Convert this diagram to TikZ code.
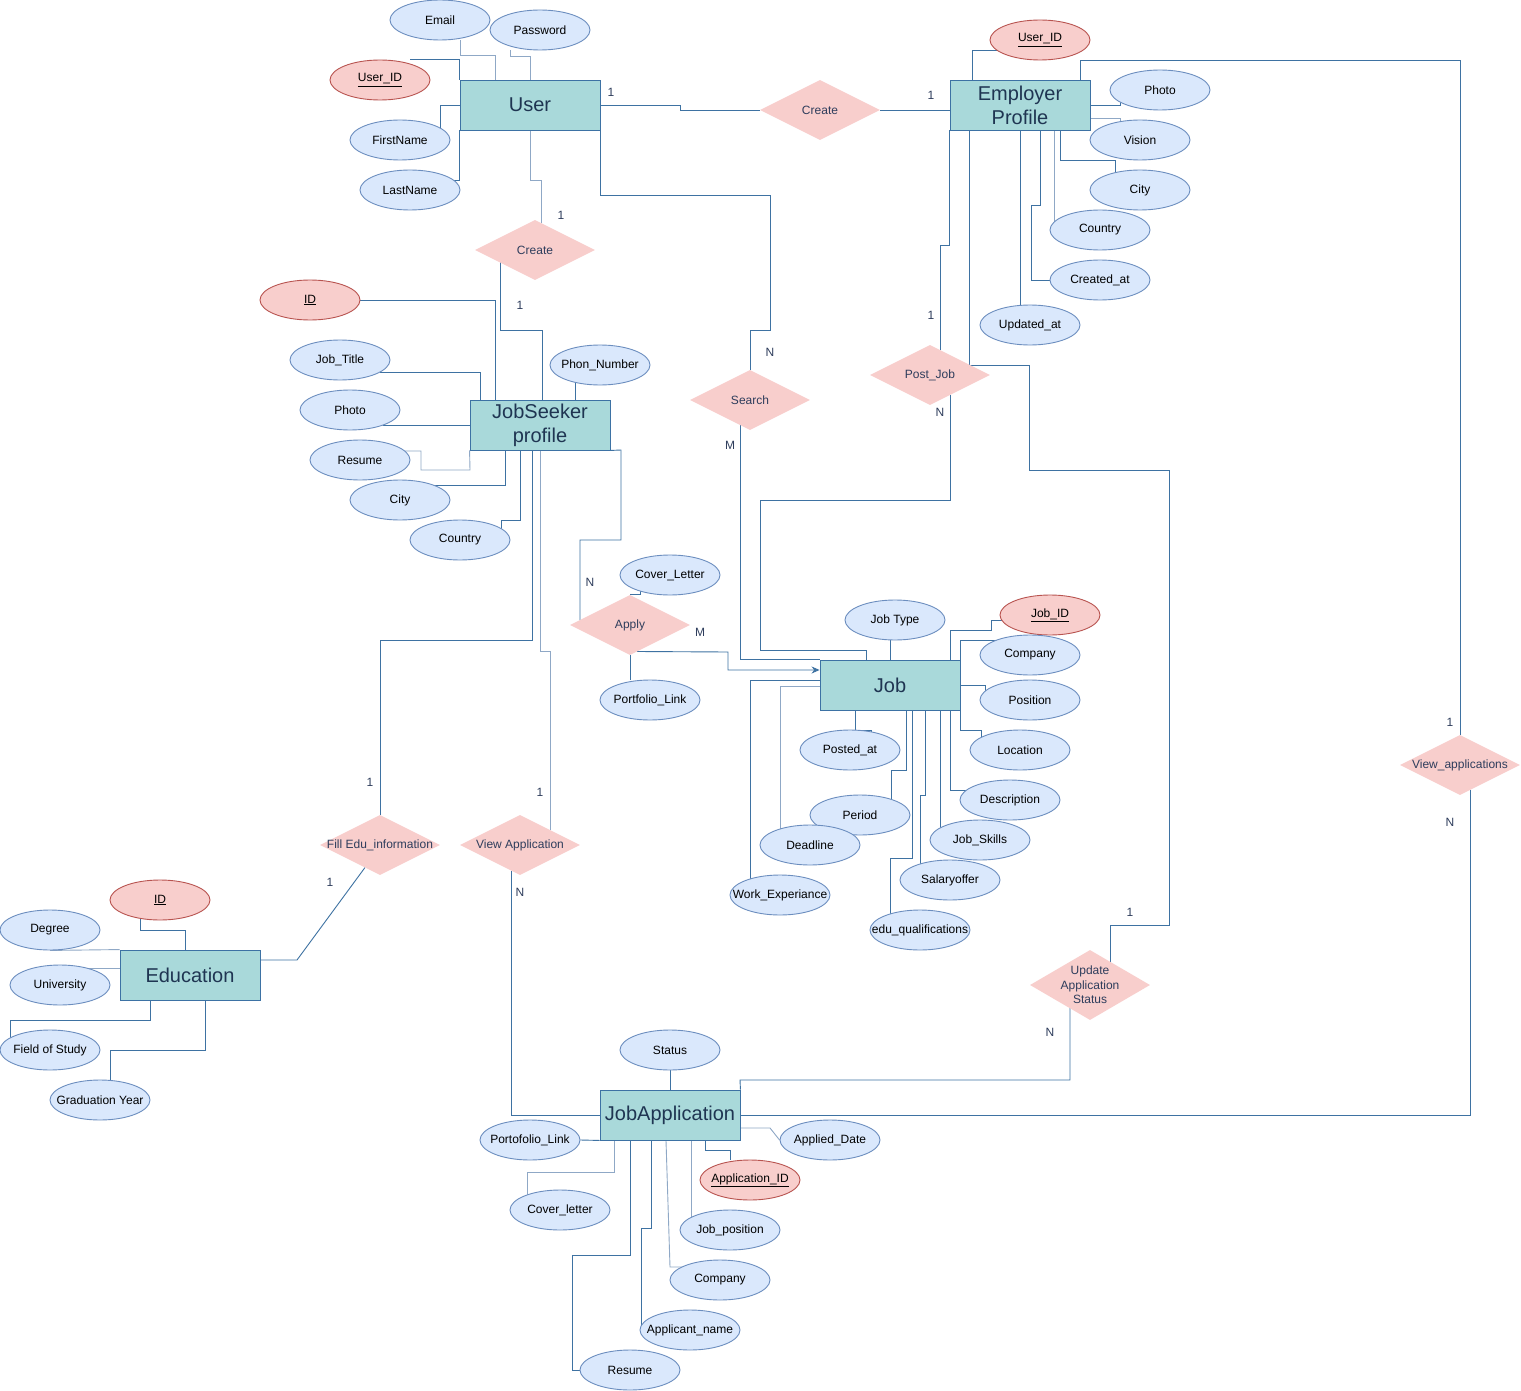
\documentclass[tikz,border=0pt]{standalone}
\usepackage{fontspec}
\setmainfont{Liberation Sans}
\usetikzlibrary{shapes.geometric,arrows.meta}
\pgfdeclarelayer{bg}
\pgfdeclarelayer{wires}
\pgfsetlayers{bg,wires,main}
\definecolor{attrfill}{HTML}{DAE8FC}
\definecolor{attrline}{HTML}{6C8EBF}
\definecolor{keyfill}{HTML}{F8CECC}
\definecolor{keyline}{HTML}{B85450}
\definecolor{entfill}{HTML}{A9D9DA}
\definecolor{entline}{HTML}{3D72A4}
\definecolor{enttext}{HTML}{1F3552}
\definecolor{relfill}{HTML}{F8CECC}
\definecolor{reltext}{HTML}{2E3D5C}
\definecolor{wire}{HTML}{3E72A2}
\definecolor{wirelight}{HTML}{8FA8C6}
\newcommand{\mbz}[1]{\makebox[0pt]{#1}}
\tikzset{
  attr/.style={ellipse, draw=attrline, fill=attrfill, line width=0.9pt, minimum width=100pt, minimum height=40pt, inner sep=0pt, font=\fontsize{12}{14}\selectfont, text=black},
  keyattr/.style={attr, draw=keyline, fill=keyfill},
  entity/.style={rectangle, draw=entline, fill=entfill, line width=0.9pt, minimum width=140pt, minimum height=50pt, inner sep=0pt, font=\fontsize{20}{24}\selectfont, text=enttext, align=center},
  rel/.style={diamond, fill=relfill, draw=none, minimum width=120pt, minimum height=60pt, inner sep=0pt, font=\fontsize{12}{14}\selectfont, text=reltext},
  reltxt/.style={font=\fontsize{12}{14.5}\selectfont, text=reltext, align=center, inner sep=0pt},
  wireline/.style={draw=wire, line width=0.9pt},
  wirelt/.style={draw=wirelight, line width=0.9pt},
  card/.style={font=\fontsize{12}{14}\selectfont, text=reltext, inner sep=0pt},
}
\begin{document}
\begin{tikzpicture}[x=1pt,y=-1pt]
\begin{pgfonlayer}{bg}
\fill[white] (0,0) rectangle (1521,1391);
\end{pgfonlayer}
\useasboundingbox (0,0) rectangle (1521,1391);

% ---------- User ----------
\node[entity] (user) at (530,105) {User};
\node[attr] (email) at (440,20) {\mbz{Email}};
\node[attr] (password) at (540,30) {\mbz{Password}};
\node[keyattr] (uid1) at (380,80) {\mbz{\underline{User\_ID}}};
\node[attr] (firstname) at (400,140) {\mbz{FirstName}};
\node[attr] (lastname) at (410,190) {\mbz{LastName}};

% ---------- Employer ----------
\node[rel] (create1) at (820,110) {\mbz{Create}};
\node[entity] (employer) at (1020,105) {Employer\\Profile};
\node[keyattr] (uid2) at (1040,40) {\mbz{\underline{User\_ID}}};
\node[attr] (ephoto) at (1160,90) {\mbz{Photo}};
\node[attr] (vision) at (1140,140) {\mbz{Vision}};
\node[attr] (ecity) at (1140,190) {\mbz{City}};
\node[attr] (ecountry) at (1100,230) {\mbz{Country}};
\node[attr] (created) at (1100,280) {\mbz{Created\_at}};
\node[attr] (updated) at (1030,325) {\mbz{Updated\_at}};

% ---------- relations ----------
\node[rel] (create2) at (535,250) {\mbz{Create}};
\node[rel] (search) at (750,400) {\mbz{Search}};
\node[rel] (postjob) at (930,375) {\mbz{Post\_Job}};
\node[rel] (apply) at (630,625) {\mbz{Apply}};
\node[rel] (filledu) at (380,845) {\mbz{Fill Edu\_information}};
\node[rel] (viewapp) at (520,845) {\mbz{View Application}};
\node[rel] (viewapps) at (1460,765) {\mbz{View\_applications}};
\node[rel, minimum height=70pt, label={[reltxt]center:Update\\Application\\Status}] (update) at (1090,985) {};

% ---------- JobSeeker ----------
\node[entity] (jobseeker) at (540,425) {JobSeeker\\profile};
\node[keyattr] (jsid) at (310,300) {\mbz{\underline{ID}}};
\node[attr] (jobtitle) at (340,360) {\mbz{Job\_Title}};
\node[attr] (jsphoto) at (350,410) {\mbz{Photo}};
\node[attr] (jsresume) at (360,460) {\mbz{Resume}};
\node[attr] (jscity) at (400,500) {\mbz{City}};
\node[attr] (jscountry) at (460,540) {\mbz{Country}};
\node[attr] (phone) at (600,365) {\mbz{Phon\_Number}};
\node[attr] (coverletter) at (670,575) {\mbz{Cover\_Letter}};
\node[attr] (portfolio) at (650,700) {\mbz{Portfolio\_Link}};

% ---------- Job ----------
\node[entity] (job) at (890,685) {Job};
\node[attr] (jobtype) at (895,620) {\mbz{Job Type}};
\node[keyattr] (jobid) at (1050,615) {\mbz{\underline{Job\_ID}}};
\node[attr] (jcompany) at (1030,655) {\mbz{Company}};
\node[attr] (position) at (1030,700) {\mbz{Position}};
\node[attr] (location) at (1020,750) {\mbz{Location}};
\node[attr] (description) at (1010,800) {\mbz{Description}};
\node[attr] (skills) at (980,840) {\mbz{Job\_Skills}};
\node[attr] (salary) at (950,880) {\mbz{Salaryoffer}};
\node[attr] (eduq) at (920,930) {\mbz{edu\_qualifications}};
\node[attr] (period) at (860,815) {\mbz{Period}};
\node[attr] (posted) at (850,750) {\mbz{Posted\_at}};
\node[attr] (deadline) at (810,845) {\mbz{Deadline}};
\node[attr] (workexp) at (780,895) {\mbz{Work\_Experiance}};

% ---------- Education ----------
\node[entity] (education) at (190,975) {Education};
\node[keyattr] (eduid) at (160,900) {\mbz{\underline{ID}}};
\node[attr] (degree) at (50,930) {\mbz{Degree}};
\node[attr] (university) at (60,985) {\mbz{University}};
\node[attr] (field) at (50,1050) {\mbz{Field of Study}};
\node[attr] (gradyear) at (100,1100) {\mbz{Graduation Year}};

% ---------- JobApplication ----------
\node[entity] (jobapp) at (670,1115) {JobApplication};
\node[attr] (status) at (670,1050) {\mbz{Status}};
\node[attr] (portolink) at (530,1140) {\mbz{Portofolio\_Link}};
\node[attr] (applied) at (830,1140) {\mbz{Applied\_Date}};
\node[keyattr] (appid) at (750,1180) {\mbz{\underline{Application\_ID}}};
\node[attr] (coverl) at (560,1210) {\mbz{Cover\_letter}};
\node[attr] (jobpos) at (730,1230) {\mbz{Job\_position}};
\node[attr] (acompany) at (720,1280) {\mbz{Company}};
\node[attr] (applicant) at (690,1330) {\mbz{Applicant\_name}};
\node[attr] (aresume) at (630,1370) {\mbz{Resume}};

\coordinate (stub) at (270,360);

% ---------- connectors ----------
\begin{pgfonlayer}{wires}
% user attributes
\draw[wirelt] ([xshift=20pt]email.south) |- (495,55) -- ([xshift=-35pt]user.north);
\draw[wirelt] ([xshift=-30pt]password.south) |- (530,56) -- (user.north);
\draw[wireline] ([xshift=30pt]uid1.north) -| (user.north west);
\draw[wireline] ([xshift=40pt,yshift=12pt]firstname.center) |- (user.west);
\draw[wireline] ([xshift=43pt,yshift=10pt]lastname.center) -| (user.south west);
% user - create - employer
\draw[wireline] (user.east) -- (680,105) |- (create1.west);
\draw[wireline] (create1.east) -- ([yshift=-5pt]employer.west);
% user - search - job
\draw[wireline] (user.south east) |- (770,195) |- (750,330) -- (search.north);
\draw[wireline] ([xshift=-10pt,yshift=-25pt]search.center) |- (job.north west);
% employer - post job - job
\draw[wireline] (employer.south west) |- (940,245) -- ([xshift=10pt,yshift=25pt]postjob.center);
\draw[wireline] ([xshift=20pt,yshift=-20pt]postjob.center) |- (760,500) |- (866,650) -- ([xshift=-24pt]job.north);
% employer - update - jobapp
\draw[wireline] ([xshift=-51pt]employer.south) |- (1029,365) |- (1169,470) |- (1110,925) -- ([xshift=20pt,yshift=23pt]update.center);
\draw[wireline] ([xshift=-20pt,yshift=-23pt]update.center) |- (740,1080) -- (jobapp.north east);
% employer - view applications - jobapp
\draw[wireline] ([xshift=60pt]employer.north) |- (1460,60) -- (viewapps.north);
\draw[wireline] ([xshift=10pt,yshift=-25pt]viewapps.center) |- (jobapp.east);
% user - create - jobseeker
\draw[wirelt] (user.south) |- (541,180) -- ([xshift=6pt,yshift=27pt]create2.center);
\draw[wireline] ([xshift=-35pt,yshift=-12.5pt]create2.center) |- (542,330) -- ([xshift=2pt]jobseeker.north);
% jobseeker attributes
\draw[wireline] (jsid.east) -| ([xshift=-45pt]jobseeker.north);
\draw[wireline] ([xshift=40pt,yshift=-12pt]jobtitle.center) -| ([xshift=-60pt]jobseeker.north);
\draw[wireline, line width=0.6pt, double=white, double distance=1.4pt] (stub) -- ([xshift=-3pt]jobtitle.west);
\draw[wireline] ([xshift=33pt,yshift=-15pt]jsphoto.center) -- (jobseeker.west);
\draw[wirelt] ([xshift=44pt,yshift=9pt]jsresume.center) -- (421,451) |- (470,470) -- (jobseeker.south west);
\draw[wireline] ([xshift=33pt,yshift=15pt]jscity.center) -| ([xshift=-35pt]jobseeker.south);
\draw[wireline] ([xshift=41pt,yshift=11pt]jscountry.center) |- (520,520) -- ([xshift=-20pt]jobseeker.south);
\draw[wireline] ([xshift=-25pt,yshift=-17pt]phone.center) -- ([xshift=35pt]jobseeker.north);
% jobseeker - apply - job
\draw[wireline] (jobseeker.south east) -- (621,450) |- (580,540) -- ([xshift=-50pt,yshift=5pt]apply.center);
\draw[wireline] ([xshift=-30pt,yshift=-16pt]coverletter.center) |- (apply.north);
\draw[wireline] (apply.south) -- ([xshift=-20pt]portfolio.north);
\draw[wireline, -{Stealth[length=8pt,width=7pt]}] ([xshift=7pt,yshift=-26.5pt]apply.center) -- (728,652) |- ([yshift=15pt]job.west);
% job attributes
\draw[wireline] ([xshift=-5pt]jobtype.south) -- (job.north);
\draw[wireline] ([xshift=-48pt,yshift=-5pt]jobid.center) -- (991,620) |- (950,630) -- ([xshift=60pt]job.north);
\draw[wireline] ([xshift=-33pt,yshift=15pt]jcompany.center) -| (job.north east);
\draw[wireline] (job.east) -| ([xshift=-45pt,yshift=9pt]position.center);
\draw[wireline] (job.south east) |- (981,730) -- ([xshift=-39pt,yshift=12.5pt]location.center);
\draw[wireline] ([xshift=60pt]job.south) |- ([xshift=-43pt,yshift=10pt]description.center);
\draw[wireline] ([xshift=50pt]job.south) -- ([xshift=-40pt,yshift=12pt]skills.center);
\draw[wireline] ([xshift=35pt]job.south) |- (920,795) -- ([xshift=-30pt,yshift=16pt]salary.center);
\draw[wireline] ([xshift=22pt]job.south) |- (890,858) -- ([xshift=-30pt,yshift=16pt]eduq.center);
\draw[wireline] ([xshift=16pt]job.south) |- (891,770) -- ([xshift=31pt,yshift=16pt]period.center);
\draw[wireline] ([xshift=-35pt]job.south) |- (871,730) -- ([xshift=21pt,yshift=18pt]posted.center);
\draw[wirelt] ([yshift=-1pt]job.west) -| ([xshift=-30pt,yshift=16pt]deadline.center);
\draw[wireline] ([yshift=5pt]job.west) -| ([xshift=-30pt,yshift=16pt]workexp.center);
% jobseeker - fill edu - education
\draw[wireline] ([xshift=-8pt]jobseeker.south) |- (380,640) -- (filledu.north);
\draw[wireline] ([xshift=-15pt,yshift=-22.5pt]filledu.center) -- (297,960) -- ([yshift=15pt]education.east);
% jobseeker - view application - jobapp
\draw[wirelt] (jobseeker.south) |- (550,651) -- ([xshift=30pt,yshift=15pt]viewapp.center);
\draw[wireline] ([xshift=-9pt,yshift=-25.5pt]viewapp.center) |- (jobapp.west);
% education attributes
\draw[wireline] ([xshift=-20pt,yshift=-18pt]eduid.center) |- (185,930) -- ([xshift=-5pt]education.north);
\draw[wirelt] (degree.south) -- (education.north west);
\draw[wirelt] ([xshift=26pt,yshift=17pt]university.center) -- ([yshift=7pt]education.west);
\draw[wireline] ([xshift=-40pt,yshift=12pt]field.center) |- (150,1020) -- ([xshift=-40pt]education.south);
\draw[wireline] ([xshift=10pt]gradyear.north) |- (205,1050) -- ([xshift=15pt]education.south);
% employer attributes
\draw[wireline] ([xshift=-43pt,yshift=-10pt]uid2.center) -| ([xshift=-48pt]employer.north);
\draw[wireline] (employer.east) -| ([xshift=-40pt,yshift=-12pt]ephoto.center);
\draw[wirelt] ([yshift=-13pt]employer.east) -| ([xshift=-20pt,yshift=18pt]vision.center);
\draw[wireline] ([xshift=40pt]employer.south) |- (1115,160) -- ([xshift=-25pt,yshift=17pt]ecity.center);
\draw[wirelt] ([xshift=34pt]employer.south) -- ([xshift=-46pt,yshift=8pt]ecountry.center);
\draw[wireline] ([xshift=20pt]employer.south) |- (1031,205) |- (created.west);
\draw[wireline] (employer.south) -- ([xshift=-10pt]updated.north);
% jobapplication attributes
\draw[wireline] (status.south) -- (jobapp.north);
\draw[wireline] (portolink.east) -- (jobapp.south west);
\draw[wirelt] ([yshift=-13pt]jobapp.east) -- (770,1128) -- (applied.west);
\draw[wireline] ([xshift=35pt]jobapp.south) |- (730,1150) -- ([xshift=-20pt]appid.north);
\draw[wirelt] ([xshift=-56pt]jobapp.south) |- (527,1172) -- ([xshift=-33pt,yshift=15pt]coverl.center);
\draw[wirelt] ([xshift=21pt]jobapp.south) -- ([xshift=-39pt,yshift=12.5pt]jobpos.center);
\draw[wirelt] ([xshift=-4pt]jobapp.south) -- (670,1267) -- ([xshift=-38pt,yshift=13pt]acompany.center);
\draw[wireline] ([xshift=-19pt]jobapp.south) |- (641,1228) -- ([xshift=-49pt,yshift=4pt]applicant.center);
\draw[wireline] ([xshift=-40pt]jobapp.south) |- (572,1255) |- (aresume.west);
\end{pgfonlayer}

% ---------- cardinalities ----------
\node[card] (c1) at (611,92) {1};
\node[card] (c2) at (931,95) {1};
\node[card] (c3) at (561,215) {1};
\node[card] (c4) at (520,305) {1};
\node[card] (c5) at (770,352) {N};
\node[card] (c6) at (931,315) {1};
\node[card] (c7) at (940,412) {N};
\node[card] (c8) at (730,445) {M};
\node[card] (c9) at (590,582) {N};
\node[card] (c10) at (700,632) {M};
\node[card] (c11) at (370,782) {1};
\node[card] (c12) at (540,792) {1};
\node[card] (c13) at (330,882) {1};
\node[card] (c14) at (520,892) {N};
\node[card] (c15) at (1450,722) {1};
\node[card] (c16) at (1450,822) {N};
\node[card] (c17) at (1130,912) {1};
\node[card] (c18) at (1050,1032) {N};
\end{tikzpicture}
\end{document}
